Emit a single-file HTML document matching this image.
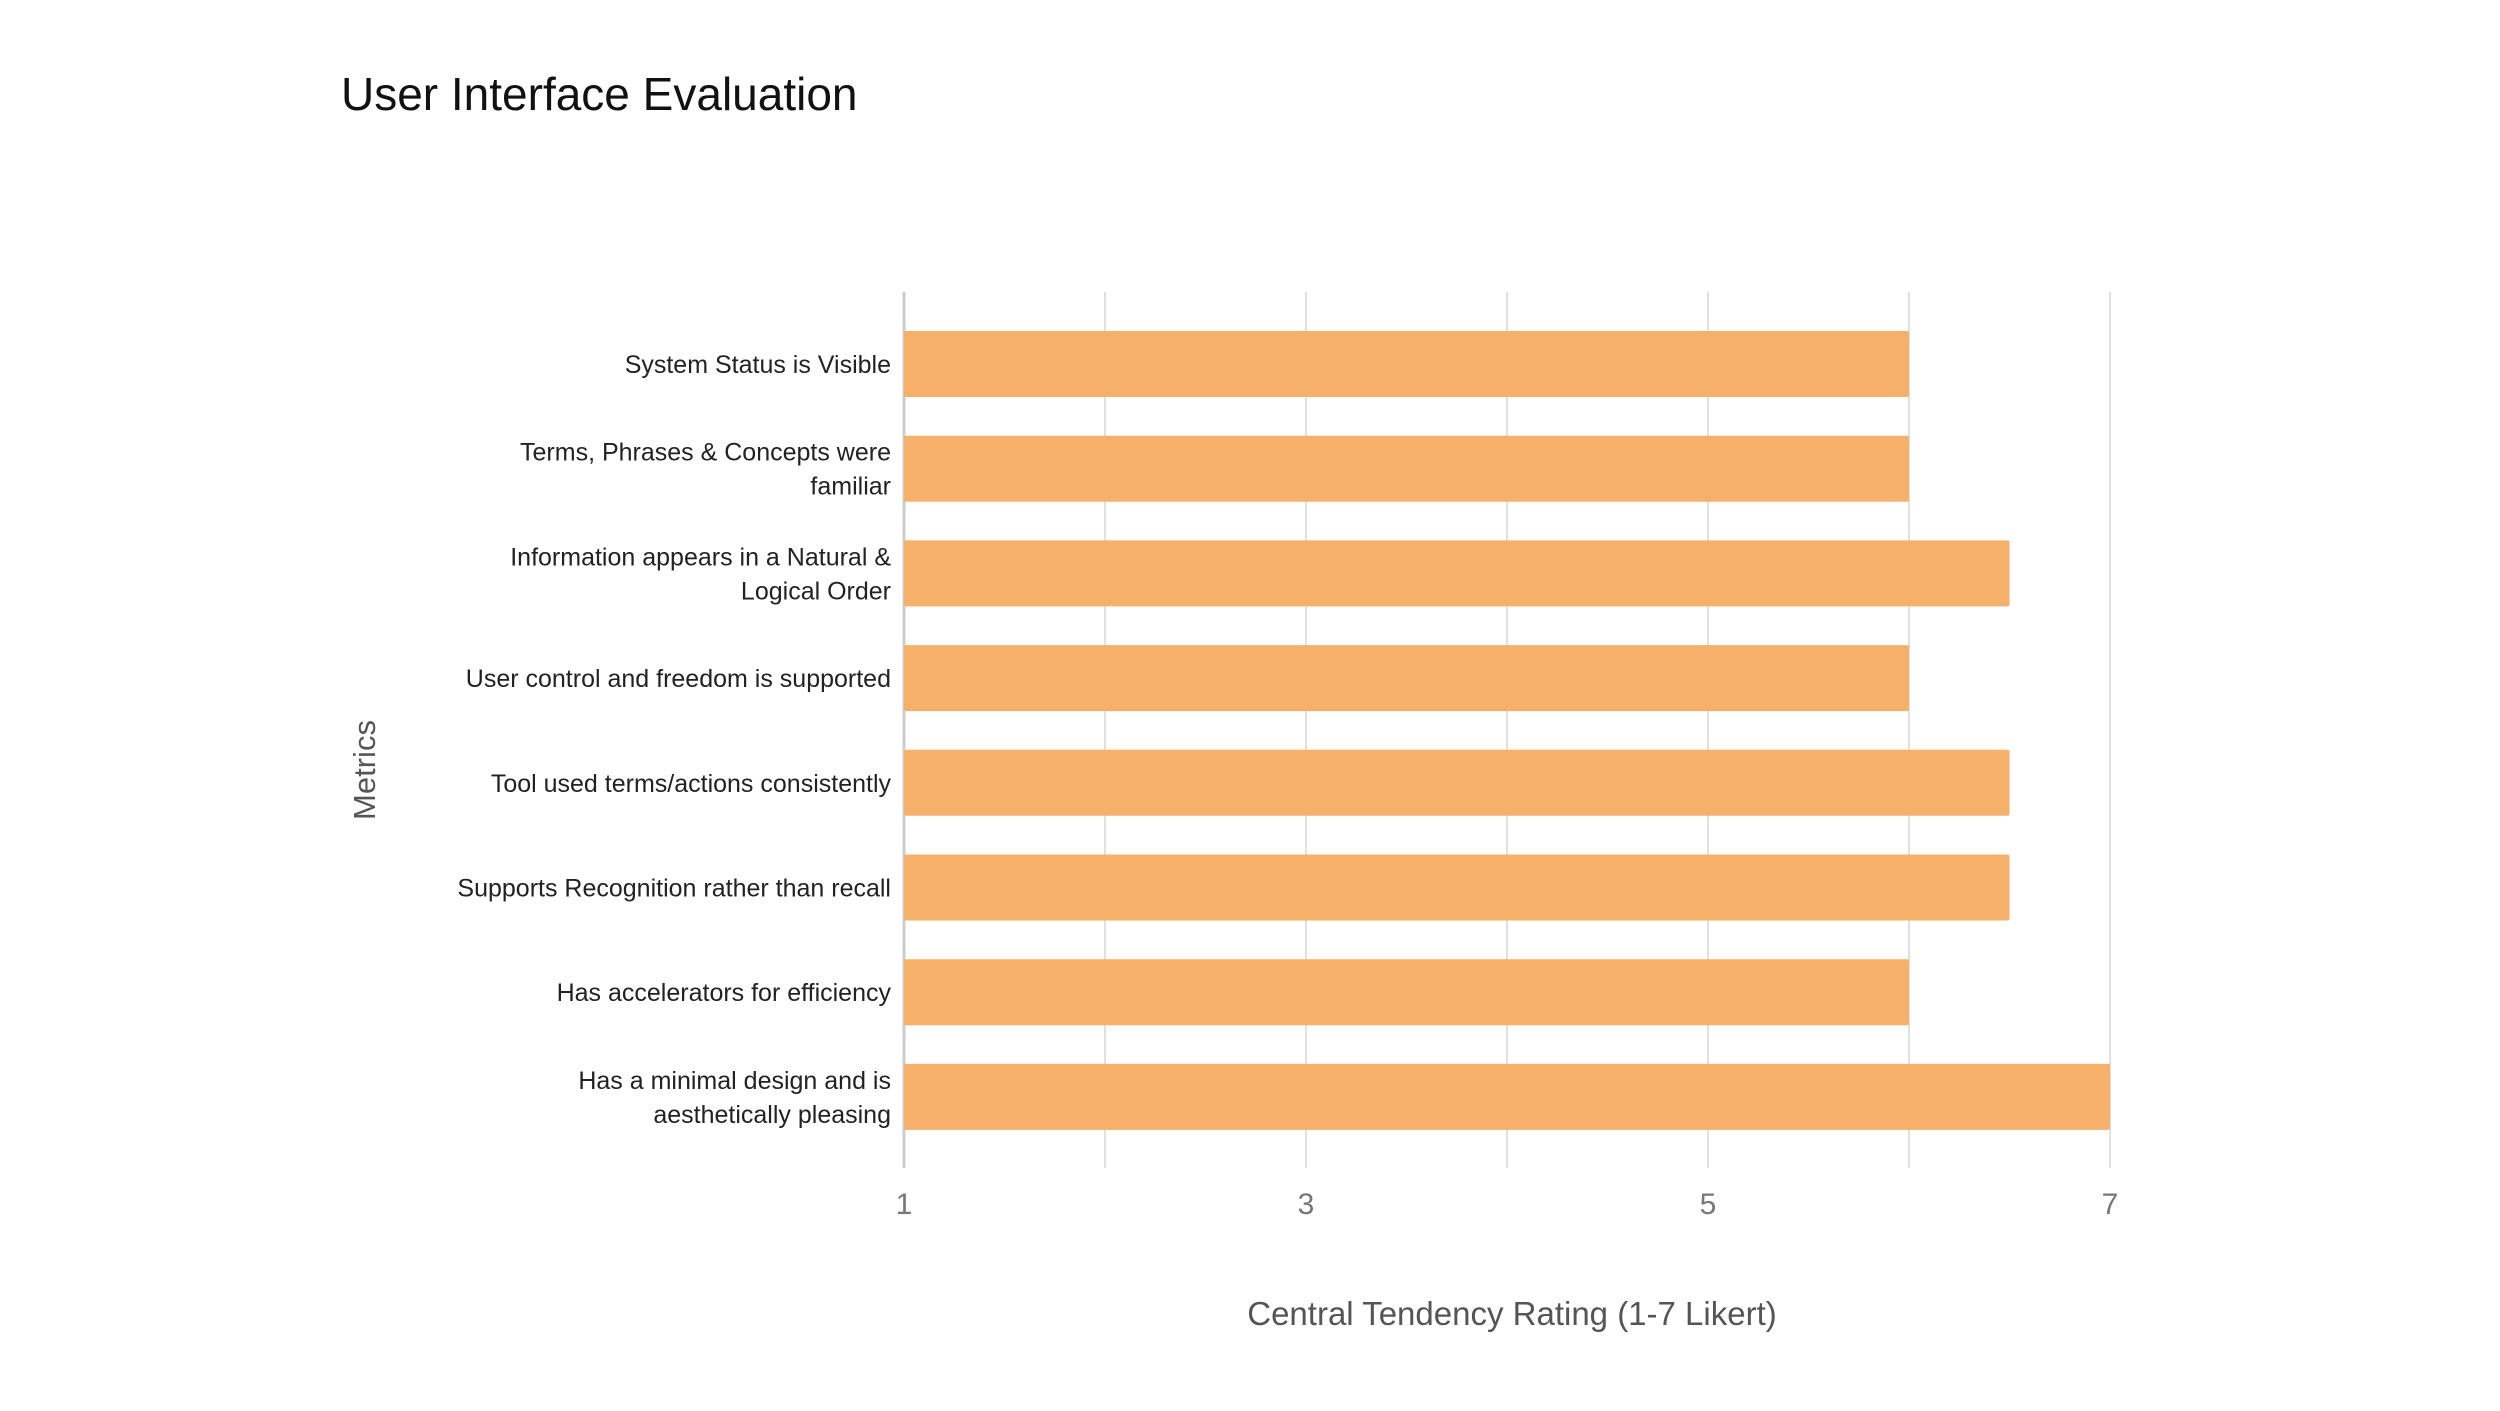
<!DOCTYPE html>
<html><head><meta charset="utf-8"><style>
body{margin:0;background:#fff;width:2500px;height:1406px;overflow:hidden;font-family:"Liberation Sans",sans-serif}
</style></head><body>
<svg width="2500" height="1406" xmlns="http://www.w3.org/2000/svg" font-family="Liberation Sans, sans-serif">
<text x="341" y="110" font-size="46" fill="#111">User Interface Evaluation</text>
<g id="grid"></g><g id="bars"></g><g id="labels"></g><g id="ticks"></g>
<text x="1512" y="1325" font-size="33" fill="#555" text-anchor="middle">Central Tendency Rating (1-7 Likert)</text>
<text x="0" y="0" font-size="31" fill="#555" text-anchor="middle" transform="translate(375,770) rotate(-90)">Metrics</text>
</svg>
<script>
const categories=[["System Status is Visible"],["Terms, Phrases & Concepts were","familiar"],["Information appears in a Natural &","Logical Order"],["User control and freedom is supported"],["Tool used terms/actions consistently"],["Supports Recognition rather than recall"],["Has accelerators for efficiency"],["Has a minimal design and is","aesthetically pleasing"]];
const values=[6,6,6.5,6,6.5,6.5,6,7];
const gridValues=[1,2,3,4,5,6,7];
const tickLabels=[1,3,5,7];
const NS="http://www.w3.org/2000/svg";
const x0=904,unit=201,xMin=1,plotTop=292,plotBottom=1168,firstBar=331,step=104.7,barH=66;
const xs=v=>x0+(v-xMin)*unit;
const ys=i=>firstBar+i*step;
function mk(t,a,p){const e=document.createElementNS(NS,t);for(const k in a)e.setAttribute(k,a[k]);document.getElementById(p).appendChild(e);return e;}
gridValues.forEach(v=>{const l=mk('line',{x1:xs(v),x2:xs(v),y1:plotTop,y2:plotBottom,stroke:v===1?'#ccc':'#e0e0e0','stroke-width':v===1?3:2},'grid');

});
tickLabels.forEach(v=>{const t=mk('text',{x:xs(v),y:1214,'font-size':30,fill:'#777','text-anchor':'middle'},'ticks');t.textContent=v;

});
values.forEach((v,i)=>{const r=mk('rect',{x:xs(1),y:ys(i),width:xs(v)-xs(1),height:barH,fill:'#F5B06A',rx:2},'bars');


const c=ys(i)+barH/2,lines=categories[i];
lines.forEach((s,j)=>{const t=mk('text',{x:891,y:c+9+(lines.length===2?(j===0?-17:17):0),'font-size':25,fill:'#222','text-anchor':'end'},'labels');t.textContent=s;

});});
</script>
</body></html>
